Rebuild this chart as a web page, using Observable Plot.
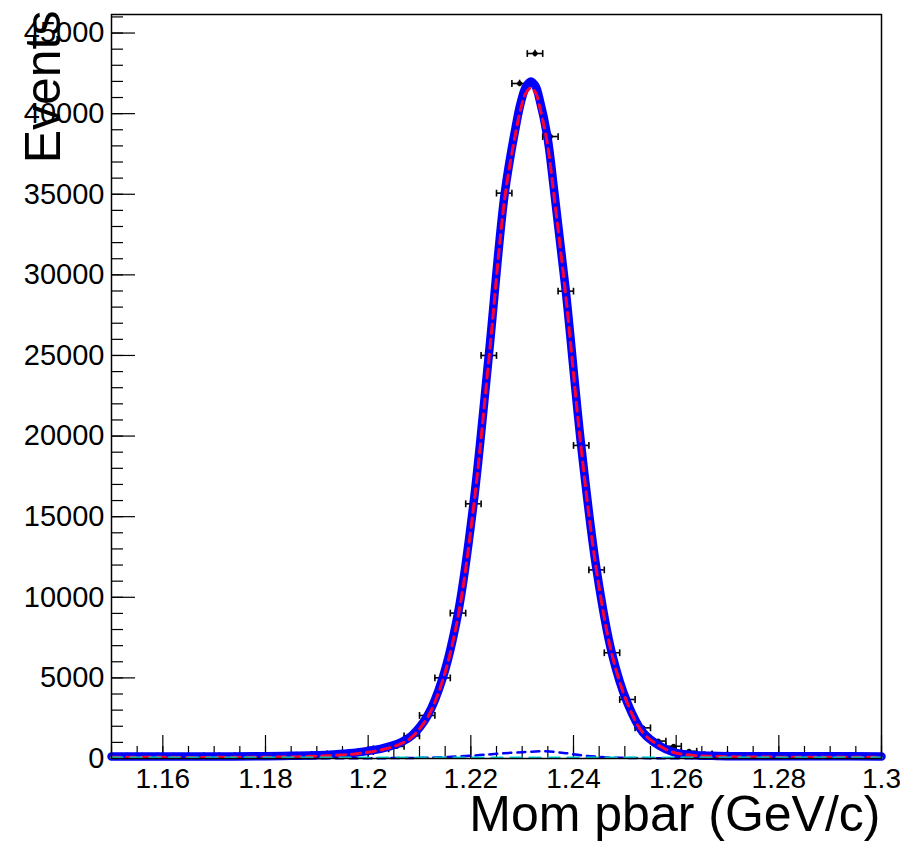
<!DOCTYPE html>
<html><head><meta charset="utf-8">
<script src="https://cdn.jsdelivr.net/npm/d3@7"></script>
<script src="https://cdn.jsdelivr.net/npm/@observablehq/plot@0.6"></script>
<style>
html,body{margin:0;padding:0;background:#fff;}
#chart{width:900px;height:844px;}
</style></head><body><div id="chart"></div>
<script>
// ---- data ----
const binCenters = [1.1515,1.1545,1.1575,1.1605,1.1635,1.1665,1.1695,1.1725,1.1755,1.1785,
  1.1815,1.1845,1.1875,1.1905,1.1935,1.1965,1.1995,1.2025,1.2055,1.2085,
  1.2115,1.2145,1.2175,1.2205,1.2235,1.2265,1.2295,1.2325,1.2355,1.2385,
  1.2415,1.2445,1.2475,1.2505,1.2535,1.2565,1.2595,1.2625,1.2655,1.2685,
  1.2715,1.2745,1.2775,1.2805,1.2835,1.2865,1.2895,1.2925,1.2955,1.2985];
const binCounts = [130,140,120,150,130,140,160,150,170,160,
  180,190,210,250,290,340,430,600,750,1400,
  2670,5000,9020,15800,25000,35070,41870,43730,38580,28990,
  19420,11700,6560,3660,1900,1080,760,450,290,250,
  180,170,160,150,160,140,150,130,140,130];
const binHalfWidth = 0.0015;

const fitX = [1.15,1.16,1.17,1.18,1.185,1.19,1.1933,1.197,1.2,1.2024,
  1.2049,1.2065,1.2085,1.2115,1.2145,1.2175,1.2205,1.2235,1.2266,1.2287,
  1.2297,1.2307,1.2317,1.2327,1.2333,1.2349,1.2362,1.2385,1.2415,1.2445,
  1.2475,1.2505,1.2535,1.2567,1.2595,1.263,1.268,1.275,1.28,1.29,1.3];
const fitTotal = [130,130,130,140,165,200,250,340,470,600,
  820,1020,1420,2620,4980,9000,15750,25000,35050,39100,
  40650,41650,42000,41650,41000,38600,35300,29000,19400,11700,
  6500,3450,1630,800,390,220,160,145,140,135,130];
const fitSignal = [70,70,70,80,100,140,190,270,390,520,
  740,930,1320,2510,4830,8780,15500,24710,34740,38750,
  40270,41260,41600,41230,40560,38160,34920,28670,19200,11610,
  6440,3420,1610,790,380,200,120,90,85,80,75];
const bkgX = [1.15,1.19,1.2,1.205,1.21,1.2145,1.221,1.225,1.23,1.2345,1.2385,1.2417,1.246,1.25,1.255,1.26,1.27,1.3];
const bkgY = [10,10,15,25,40,80,190,290,390,450,330,190,80,40,20,10,10,10];
const bkg2X = [1.15,1.3];
const bkg2Y = [45,45];

const xTicks = [1.16,1.18,1.2,1.22,1.24,1.26,1.28,1.3];
const yTicks = [0,5000,10000,15000,20000,25000,30000,35000,40000,45000];
const xMinor = d3.range(1.15, 1.3001, 0.005);
const yMinor = d3.range(0, 46001, 1000);
const xTitle = "Mom pbar (GeV/c)";
const yTitle = "Events";

// ---- build ----
const W = 900, H = 844, mL = 111, mR = 19, mT = 14, mB = 86;
const pw = W - mL - mR, ph = H - mT - mB;
const pts = binCenters.map((x, i) => ({x, y: binCounts[i]}));
const toRows = (xs, ys) => xs.map((x, i) => ({x, y: ys[i]}));
const vbar = {draw(ctx, size){ const h = Math.sqrt(size / Math.PI); ctx.moveTo(0, -h); ctx.lineTo(0, h); }};

const chart = Plot.plot({
  width: W, height: H,
  marginLeft: mL, marginRight: mR, marginTop: mT, marginBottom: mB,
  style: {fontFamily: "'Liberation Sans', Arial, Helvetica, sans-serif", color: "black", background: "white"},
  x: {domain: [1.15, 1.3], axis: null},
  y: {domain: [0, 46150], axis: null},
  marks: [
    // ticks (inside frame)
    Plot.tickY(yTicks, {y: d => d, stroke: "black", strokeWidth: 1.2, insetRight: pw - 24}),
    Plot.tickY(yMinor, {y: d => d, stroke: "black", strokeWidth: 1.2, insetRight: pw - 12}),
    Plot.tickX(xTicks, {x: d => d, stroke: "black", strokeWidth: 1.2, insetTop: ph - 23}),
    Plot.tickX(xMinor, {x: d => d, stroke: "black", strokeWidth: 1.2, insetTop: ph - 12}),
    Plot.axisX(xTicks, {tickSize: 0, tickPadding: 10, fontSize: 28, tickFormat: d => String(d), label: null}),
    Plot.axisY(yTicks, {tickSize: 0, tickPadding: 7, fontSize: 29, tickFormat: d => String(d), label: null}),
    // data points with error bars
    Plot.ruleY(pts, {y: "y", x1: d => d.x - binHalfWidth, x2: d => d.x + binHalfWidth, stroke: "black", strokeWidth: 1.6}),
    Plot.ruleX(pts, {x: "x", y1: d => d.y - Math.sqrt(d.y), y2: d => d.y + Math.sqrt(d.y), stroke: "black", strokeWidth: 1.6}),
    Plot.dot(pts, {x: d => d.x - binHalfWidth, y: "y", symbol: vbar, r: 3.4, stroke: "black", fill: "none", strokeWidth: 1.6}),
    Plot.dot(pts, {x: d => d.x + binHalfWidth, y: "y", symbol: vbar, r: 3.4, stroke: "black", fill: "none", strokeWidth: 1.6}),
    Plot.dot(pts, {x: "x", y: "y", r: 2.5, fill: "black", stroke: "none"}),
    // fits
    Plot.line(toRows(fitX, fitTotal), {x: "x", y: "y", stroke: "#0000ff", strokeWidth: 8.5, curve: "catmull-rom", strokeLinejoin: "round"}),
    Plot.line(toRows(bkgX, bkgY), {x: "x", y: "y", stroke: "#0000ff", strokeWidth: 2.5, strokeDasharray: "8,6", curve: "catmull-rom"}),
    Plot.line(toRows(fitX, fitSignal), {x: "x", y: "y", stroke: "#ff0033", strokeWidth: 3, strokeDasharray: "9,6", curve: "catmull-rom"}),
    Plot.line(toRows(bkg2X, bkg2Y), {x: "x", y: "y", stroke: "#00dddd", strokeWidth: 2.5, strokeDasharray: "11,8"}),
    Plot.frame({stroke: "black", strokeWidth: 1.5}),
    // titles
    Plot.text([yTitle], {frameAnchor: "top-left", rotate: -90, textAnchor: "end", lineAnchor: "bottom", dx: -52, dy: -4, fontSize: 50, fill: "black"}),
    Plot.text([xTitle], {frameAnchor: "bottom-right", textAnchor: "end", lineAnchor: "bottom", dx: -1, dy: 72, fontSize: 50, fill: "black"})
  ]
});
document.getElementById("chart").appendChild(chart);
</script>
</body></html>
